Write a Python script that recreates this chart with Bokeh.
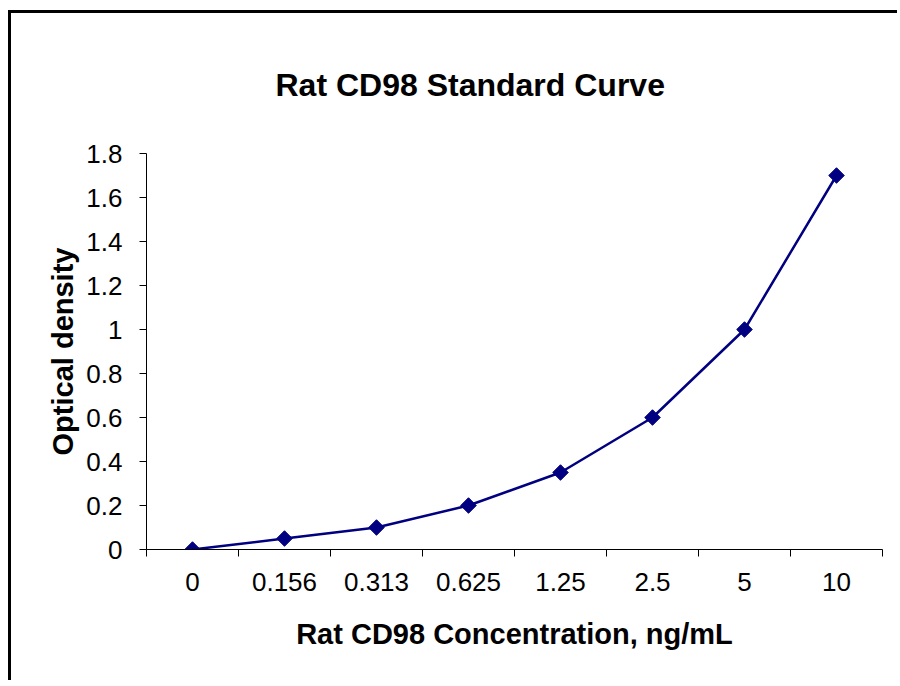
import math
from bokeh.plotting import figure
from bokeh.models import (Range1d, FactorRange, LinearAxis, FixedTicker,
                          CustomJSTickFormatter, Title, ColumnDataSource)
from bokeh.embed import file_html
from bokeh.resources import INLINE

# ---- data ----
concentrations = ["0", "0.156", "0.313", "0.625", "1.25", "2.5", "5", "10"]
optical_density = [0.0, 0.05, 0.1, 0.2, 0.35, 0.6, 1.0, 1.7]
y_ticks = [0.0, 0.2, 0.4, 0.6, 0.8, 1.0, 1.2, 1.4, 1.6, 1.8]

FONT = "Liberation Sans"
NAVY = "#000080"

p = figure(width=889, height=670, output_backend="svg", toolbar_location=None,
           x_range=FactorRange(factors=concentrations, range_padding=0),
           y_range=Range1d(0, 1.8),
           x_axis_location=None, y_axis_location=None,
           min_border_left=135, min_border_right=18, min_border_top=139, min_border_bottom=134)
p.title = None
p.outline_line_color = None
p.xgrid.grid_line_color = None
p.ygrid.grid_line_color = None
p.background_fill_color = "white"
p.border_fill_color = "white"
p.styles = {"border-top": "3px solid black", "border-left": "3px solid black",
            "margin-left": "8px", "margin-top": "10px"}

# title
t = Title(text="Rat CD98 Standard Curve", align="left", text_font=FONT,
          text_font_size="32px", text_font_style="bold", text_color="black",
          offset=129, standoff=102)
p.add_layout(t, "above")

# y axis
yax = LinearAxis(ticker=FixedTicker(ticks=y_ticks),
                 formatter=CustomJSTickFormatter(code="return String(Number(tick.toFixed(1)));"),
                 axis_label="Optical density", axis_label_text_font=FONT,
                 axis_label_text_font_size="29px", axis_label_text_font_style="bold",
                 axis_label_text_color="black", axis_label_standoff=4,
                 major_label_text_font=FONT, major_label_text_font_size="26px",
                 major_label_text_color="black",
                 major_label_standoff=17, major_tick_out=7, major_tick_in=0,
                 minor_tick_line_color=None, axis_line_color="black",
                 major_tick_line_color="black")
p.add_layout(yax, "left")

# x axis: labels at category centres (major), tick marks at category boundaries (minor)
n = len(concentrations)
x_ticker = FixedTicker(ticks=[i + 0.5 for i in range(n)], minor_ticks=list(range(n + 1)))
xax = LinearAxis(ticker=x_ticker,
                 formatter=CustomJSTickFormatter(args=dict(cats=concentrations),
                                                 code="return cats[Math.floor(tick)];"),
                 axis_label="Rat CD98 Concentration, ng/mL", axis_label_text_font=FONT,
                 axis_label_text_font_size="29px", axis_label_text_font_style="bold",
                 axis_label_text_color="black", axis_label_standoff=24,
                 major_label_text_font=FONT, major_label_text_font_size="26px",
                 major_label_text_color="black",
                 major_label_standoff=16, major_tick_line_color=None,
                 major_tick_out=0, major_tick_in=0,
                 minor_tick_out=7, minor_tick_in=0, minor_tick_line_color="black",
                 axis_line_color="black")
p.add_layout(xax, "below")

src = ColumnDataSource(data=dict(x=concentrations, y=optical_density))
p.line("x", "y", source=src, line_color=NAVY, line_width=2.5)
p.scatter("x", "y", source=src, marker="square", size=11, angle=math.pi / 4,
          fill_color=NAVY, line_color=NAVY)

open("out.html", "w").write(file_html(p, INLINE))
